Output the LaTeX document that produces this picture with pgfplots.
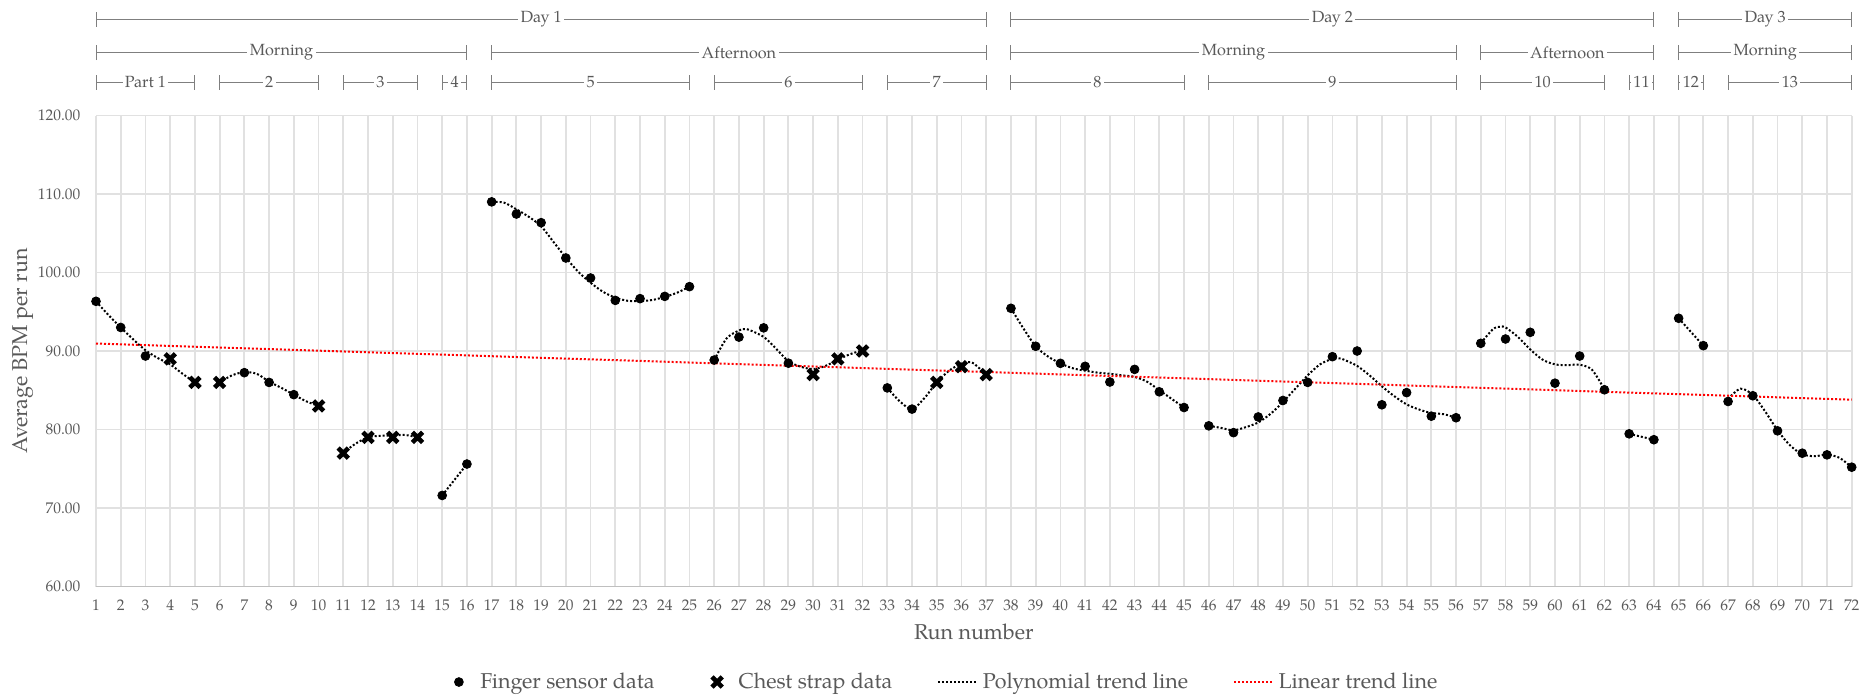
\documentclass[border=0pt]{standalone}
\usepackage{fontspec}
\setmainfont{TeX Gyre Pagella}
\usepackage{pgfplots}
\pgfplotsset{compat=1.18}
\definecolor{gridc}{HTML}{E1E1E1}
\definecolor{txt}{HTML}{595959}
\definecolor{hdrc}{HTML}{7F7F7F}
\newcommand\tickfont{\fontsize{7.7}{9}\selectfont}
\newcommand\hdrfont{\fontsize{8.1}{9.5}\selectfont}
\newcommand\labfont{\fontsize{10.75}{12.5}\selectfont}
\tikzset{
  trend/.style={black, line width=1pt, dash pattern=on 1pt off 1pt, smooth, tension=0.5},
  lin/.style={red, line width=1pt, dash pattern=on 1pt off 1pt},
  hdr/.style={draw=hdrc, line width=0.5pt},
}
\pgfplotsset{
  shortleg/.style={legend image code/.code={\draw[##1] (0pt,0pt) -- (19.75pt,0pt);}},
  markleg/.style={legend image code/.code={\path[draw=none,fill=none] (-8.75pt,-1pt) rectangle (8.75pt,1pt);
      \draw[##1, only marks] plot coordinates {(0pt,0pt)};}},
}
\newcommand\brk[4]{%
  \draw[hdr] ([yshift=#3]axis cs:#1,120) -- ([yshift=#3]axis cs:#2,120)
    node[midway, fill=white, inner xsep=1.2pt, inner ysep=0.5pt, text=txt, font=\hdrfont] {#4};
  \draw[hdr] ([yshift=#3-3.75pt]axis cs:#1,120) -- ([yshift=#3+3.75pt]axis cs:#1,120);
  \draw[hdr] ([yshift=#3-3.75pt]axis cs:#2,120) -- ([yshift=#3+3.75pt]axis cs:#2,120);
}
\begin{document}
\begin{tikzpicture}
\begin{axis}[
  at={(0,0)}, anchor=south west,
  scale only axis, width=877.85pt, height=235.5pt,
  xmin=1, xmax=72, ymin=60, ymax=120,
  xtick={1,...,72}, ytick={60,70,...,120},
  grid=major, major grid style={draw=gridc, line width=0.9pt},
  axis line style={draw=none},
  major tick length=0pt,
  tick label style={font=\tickfont, text=txt},
  /pgf/number format/assume math mode=true,
  yticklabel style={anchor=east, xshift=-4.3pt, /pgf/number format/fixed, /pgf/number format/fixed zerofill, /pgf/number format/precision=2},
  xticklabel style={anchor=center, yshift=-9.25pt},
  clip=false,
  xlabel={Run number}, ylabel={Average BPM per run},
  label style={font=\labfont, text=txt},
  xlabel style={at={(axis description cs:0.5,-0.0966)}, anchor=center},
  ylabel style={at={(axis description cs:-0.04175,0.5)}, anchor=center},
  legend columns=4,
  legend style={at={(axis description cs:0.4815,-0.2028)}, anchor=center, draw=none, fill=none,
    font=\labfont, text=txt, /tikz/every even column/.append style={column sep=20.5pt}},
  legend cell align=left,
]
% bottom axis line
\draw[color=gridc!85!black, line width=0.8pt] (axis cs:1,60) -- (axis cs:72,60);
% polynomial trend segments
\addplot[trend, forget plot] coordinates {(1,96.33)(1.5,94.6)(2,93.0)(2.5,91.5)(3,90.1)(3.5,89.1)(4,88.3)(4.5,87.1)(5,86.0)};
\addplot[trend, forget plot] coordinates {(6,86.0)(6.5,86.9)(7,87.3)(7.5,87.1)(8,86.1)(8.5,85.3)(9,84.44)(9.5,83.6)(10,83.0)};
\addplot[trend, forget plot] coordinates {(11,77.05)(11.5,78.2)(12,79.0)(12.5,79.2)(13,79.25)(13.5,79.3)(14,79.0)};
\addplot[trend, forget plot] coordinates {(15,71.6)(16,75.6)};
\addplot[trend, forget plot] coordinates {(17,109.0)(17.5,108.9)(18,108.05)(18.5,107.1)(19,105.9)(19.5,103.9)(20,101.9)(20.5,100.1)(21,98.7)(21.5,97.55)(22,96.8)(22.5,96.4)(23,96.37)(23.5,96.5)(24,96.9)(24.5,97.43)(25,98.2)};
\addplot[trend, forget plot] coordinates {(26,88.85)(26.5,91.6)(27,92.6)(27.3,92.8)(28,91.8)(28.5,90.3)(29,88.7)(29.5,88.0)(30,87.7)(30.5,88.1)(31,88.9)(31.5,89.6)(32,90.1)};
\addplot[trend, forget plot] coordinates {(33,85.3)(33.5,83.6)(34,82.6)(34.5,84.0)(35,86.0)(35.5,87.5)(36,88.4)(36.3,88.6)(36.5,88.4)(37,87.0)};
\addplot[trend, forget plot] coordinates {(38,95.44)(38.5,92.9)(39,90.6)(39.5,89.3)(40,88.43)(40.5,87.8)(41,87.5)(41.5,87.25)(42,87.1)(42.5,86.9)(43,86.7)(43.5,86.1)(44,85.0)(44.5,83.9)(45,82.8)};
\addplot[trend, forget plot] coordinates {(46,80.47)(46.5,80.2)(47,79.9)(47.5,80.3)(48,80.9)(48.5,82.0)(49,83.5)(49.5,85.2)(50,86.9)(50.5,88.3)(51,89.0)(51.3,89.06)(51.5,88.85)(52,88.1)(52.5,86.9)(53,85.5)(53.5,84.25)(54,83.2)(54.5,82.55)(55,82.1)(55.5,81.95)(56,81.5)};
\addplot[trend, forget plot] coordinates {(57,91.0)(57.5,92.8)(57.8,93.1)(58,93.0)(58.5,91.8)(59,90.2)(59.5,88.9)(60,88.3)(60.5,88.2)(61,88.25)(61.5,87.6)(62,85.1)};
\addplot[trend, forget plot] coordinates {(63,79.45)(64,78.7)};
\addplot[trend, forget plot] coordinates {(65,94.17)(66,90.68)};
\addplot[trend, forget plot] coordinates {(67,83.9)(67.5,85.2)(68,84.4)(68.5,82.3)(69,79.9)(69.5,78.0)(70,76.85)(70.5,76.6)(71,76.8)(71.5,76.4)(72,75.2)};
% linear trend
\addplot[lin, forget plot] coordinates {(1,90.95)(72,83.8)};
% data
\addplot[only marks, mark=*, mark size=2.2pt, black, markleg] coordinates {
(1,96.33)(2,93.0)(3,89.36)(7,87.24)(8,86.0)(9,84.44)(15,71.6)(16,75.6)
(17,109.0)(18,107.45)(19,106.35)(20,101.85)(21,99.3)(22,96.45)(23,96.67)(24,96.96)(25,98.2)
(26,88.85)(27,91.77)(28,92.95)(29,88.45)(33,85.3)(34,82.6)
(38,95.44)(39,90.6)(40,88.43)(41,88.05)(42,86.05)(43,87.66)(44,84.8)(45,82.8)
(46,80.47)(47,79.6)(48,81.6)(49,83.7)(50,86.0)(51,89.28)(52,90.0)(53,83.15)(54,84.7)(55,81.7)(56,81.5)
(57,90.98)(58,91.53)(59,92.38)(60,85.9)(61,89.36)(62,85.06)(63,79.45)(64,78.7)
(65,94.17)(66,90.68)(67,83.57)(68,84.3)(69,79.83)(70,76.98)(71,76.77)(72,75.2)};
\addlegendentry{Finger sensor data}
\addplot[only marks, mark=x, mark size=3.6pt, black, mark options={line width=2.3pt}, markleg] coordinates {
(4,89)(5,86)(6,86)(10,83)(11,77)(12,79)(13,79)(14,79)(30,87)(31,89)(32,90)(35,86)(36,88)(37,87)};
\addlegendentry{Chest strap data}
\addlegendimage{black, line width=1pt, dash pattern=on 1pt off 1pt, shortleg}
\addlegendentry{Polynomial trend line}
\addlegendimage{red, line width=1pt, dash pattern=on 1pt off 1pt, shortleg}
\addlegendentry{Linear trend line}
% header brackets
\brk{1}{37}{48.25pt}{Day 1}
\brk{38}{64}{48.25pt}{Day 2}
\brk{65}{72}{48.25pt}{Day 3}
\brk{1}{16}{31.5pt}{Morning}
\brk{17}{37}{31.5pt}{Afternoon}
\brk{38}{56}{31.5pt}{Morning}
\brk{57}{64}{31.5pt}{Afternoon}
\brk{65}{72}{31.5pt}{Morning}
\brk{1}{5}{16.75pt}{Part 1}
\brk{6}{10}{16.75pt}{2}
\brk{11}{14}{16.75pt}{3}
\brk{15}{16}{16.75pt}{4}
\brk{17}{25}{16.75pt}{5}
\brk{26}{32}{16.75pt}{6}
\brk{33}{37}{16.75pt}{7}
\brk{38}{45}{16.75pt}{8}
\brk{46}{56}{16.75pt}{9}
\brk{57}{62}{16.75pt}{10}
\brk{63}{64}{16.75pt}{11}
\brk{65}{66}{16.75pt}{12}
\brk{67}{72}{16.75pt}{13}
\end{axis}
\pgfresetboundingbox
\path[use as bounding box] (-48pt,-55.25pt) rectangle (888pt,293.25pt);
\end{tikzpicture}
\end{document}
